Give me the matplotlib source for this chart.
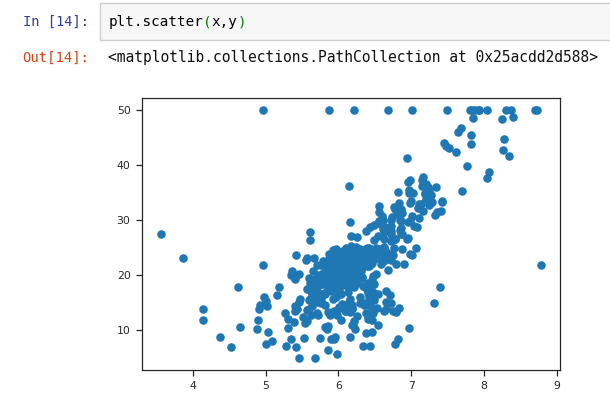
import numpy as np
import matplotlib
matplotlib.use('Agg')
import matplotlib.pyplot as plt

# RM (average rooms) vs MEDV (median value) -- Boston housing
x = [6.575, 6.421, 7.185, 6.998, 7.147, 6.430, 6.012, 6.172, 5.631, 6.004,
     6.377, 6.009, 5.889, 5.949, 6.096, 5.834, 5.935, 5.990, 5.456, 5.727,
     5.570, 5.965, 6.142, 5.813, 5.924, 5.599, 5.813, 6.047, 6.495, 6.674,
     5.713, 6.072, 5.950, 5.701, 6.096, 5.933, 5.841, 5.850, 5.966, 6.595,
     7.024, 6.770, 6.169, 6.211, 6.069, 5.682, 5.786, 6.030, 5.399, 5.602,
     5.963, 6.115, 6.511, 5.998, 5.888, 7.249, 6.383, 6.816, 6.145, 5.927,
     5.741, 5.966, 6.456, 6.762, 7.104, 6.290, 5.787, 5.878, 5.594, 5.885,
     6.417, 5.961, 6.065, 6.245, 6.273, 6.286, 6.279, 6.140, 6.232, 5.874,
     6.727, 6.619, 6.302, 6.167, 6.389, 6.630, 6.015, 6.121, 7.007, 7.079,
     6.417, 6.405, 6.442, 6.211, 6.249, 6.625, 6.163, 8.069, 7.820, 7.416,
     6.727, 6.781, 6.405, 6.137, 6.167, 5.851, 5.836, 6.127, 6.474, 6.229,
     6.195, 6.715, 5.913, 6.092, 6.254, 5.928, 6.176, 6.021, 5.872, 5.731,
     5.870, 6.004, 5.961, 5.856, 5.879, 5.986, 5.613, 5.693, 6.431, 5.637,
     6.458, 6.326, 6.372, 5.822, 5.757, 6.335, 5.942, 6.454, 5.857, 6.151,
     6.174, 5.019, 5.403, 5.468, 4.903, 6.130, 5.628, 4.926, 5.186, 5.597,
     6.122, 5.404, 5.012, 5.709, 6.129, 6.152, 5.272, 6.943, 6.066, 6.510,
     6.250, 7.489, 7.802, 8.375, 5.854, 6.101, 7.929, 5.877, 6.319, 6.402,
     5.875, 5.880, 5.572, 6.416, 5.859, 6.546, 6.020, 6.315, 6.860, 6.980,
     7.765, 6.144, 7.155, 6.563, 5.604, 6.153, 7.831, 6.782, 6.556, 7.185,
     6.951, 6.739, 7.178, 6.800, 6.604, 7.875, 7.287, 7.107, 7.274, 6.975,
     7.135, 6.162, 7.610, 7.853, 8.034, 5.891, 6.326, 5.783, 6.064, 5.344,
     5.960, 5.404, 5.807, 6.375, 5.412, 6.182, 5.888, 6.642, 5.951, 6.373,
     6.951, 6.164, 6.879, 6.618, 8.266, 8.725, 8.040, 7.163, 7.686, 6.552,
     5.981, 7.412, 8.337, 8.247, 6.726, 6.086, 6.631, 7.358, 6.481, 6.606,
     6.897, 6.095, 6.358, 6.393, 5.593, 5.605, 6.108, 6.226, 6.433, 6.718,
     6.487, 6.438, 6.957, 8.259, 6.108, 5.876, 7.454, 8.704, 7.333, 6.842,
     7.203, 7.520, 8.398, 7.327, 7.206, 5.560, 7.014, 8.297, 7.470, 5.920,
     5.856, 6.240, 6.538, 7.691, 6.758, 6.854, 7.267, 6.826, 6.482, 6.812,
     7.820, 6.968, 7.645, 7.923, 7.088, 6.453, 6.230, 6.209, 6.315, 6.565,
     6.861, 7.148, 6.630, 6.127, 6.009, 6.678, 6.549, 5.790, 6.345, 7.041,
     6.871, 6.590, 6.495, 6.982, 7.236, 6.616, 7.420, 6.849, 6.635, 5.972,
     4.973, 6.122, 6.023, 6.266, 6.567, 5.705, 5.914, 5.782, 6.382, 6.113,
     6.426, 6.376, 6.041, 5.708, 6.415, 6.431, 6.312, 6.083, 5.868, 6.333,
     6.144, 5.706, 6.031, 6.316, 6.310, 6.037, 5.869, 5.895, 6.059, 5.985,
     5.968, 7.241, 6.540, 6.696, 6.874, 6.014, 5.898, 6.516, 6.635, 6.939,
     6.490, 6.579, 5.884, 6.728, 5.663, 5.936, 6.212, 6.395, 6.127, 6.112,
     6.398, 6.251, 5.362, 5.803, 8.780, 3.561, 4.963, 3.863, 4.970, 6.683,
     7.016, 6.216, 5.875, 4.906, 4.138, 7.313, 6.649, 6.794, 6.380, 6.223,
     6.968, 6.545, 5.536, 5.520, 4.368, 5.277, 4.652, 5.000, 4.880, 5.390,
     5.713, 6.051, 5.036, 6.193, 5.887, 6.471, 6.405, 5.747, 5.453, 5.852,
     5.987, 6.343, 6.404, 5.349, 5.531, 5.683, 4.138, 5.608, 5.617, 6.852,
     5.757, 6.657, 4.628, 5.155, 4.519, 6.434, 6.782, 5.304, 5.957, 6.824,
     6.411, 6.006, 5.648, 6.103, 5.565, 5.896, 5.837, 6.202, 6.193, 6.380,
     6.348, 6.833, 6.425, 6.436, 6.208, 6.629, 6.461, 6.152, 5.935, 5.627,
     5.818, 6.406, 6.219, 6.485, 5.854, 6.459, 6.341, 6.251, 6.185, 6.417,
     6.749, 6.655, 6.297, 7.393, 6.728, 6.525, 5.976, 5.936, 6.301, 6.081,
     6.701, 6.376, 6.317, 6.513, 6.209, 5.759, 5.952, 6.003, 5.926, 5.713,
     6.167, 6.229, 6.437, 6.980, 5.427, 6.162, 6.484, 5.304, 6.185, 6.229,
     6.242, 6.750, 7.061, 5.762, 5.871, 6.312, 6.114, 5.905, 5.454, 5.414,
     5.093, 5.983, 5.983, 5.707, 5.926, 5.670, 5.390, 5.794, 6.019, 5.569,
     6.027, 6.593, 6.120, 6.976, 6.794, 6.030]

y = [24.0, 21.6, 34.7, 33.4, 36.2, 28.7, 22.9, 27.1, 16.5, 18.9,
     15.0, 18.9, 21.7, 20.4, 18.2, 19.9, 23.1, 17.5, 20.2, 18.2,
     13.6, 19.6, 15.2, 14.5, 15.6, 13.9, 16.6, 14.8, 18.4, 21.0,
     12.7, 14.5, 13.2, 13.1, 13.5, 18.9, 20.0, 21.0, 24.7, 30.8,
     34.9, 26.6, 25.3, 24.7, 21.2, 19.3, 20.0, 16.6, 14.4, 19.4,
     19.7, 20.5, 25.0, 23.4, 18.9, 35.4, 24.7, 31.6, 23.3, 19.6,
     18.7, 16.0, 22.2, 25.0, 33.0, 23.5, 19.4, 22.0, 17.4, 20.9,
     24.2, 21.7, 22.8, 23.4, 24.1, 21.4, 20.0, 20.8, 21.2, 20.3,
     28.0, 23.9, 24.8, 22.9, 23.9, 26.6, 22.5, 22.2, 23.6, 28.7,
     22.6, 22.0, 22.9, 25.0, 20.6, 28.4, 21.4, 38.7, 43.8, 33.2,
     27.5, 26.5, 18.6, 19.3, 20.1, 19.5, 19.5, 20.4, 19.8, 19.4,
     21.7, 22.8, 18.8, 18.7, 18.5, 18.3, 21.2, 19.2, 20.4, 19.3,
     22.0, 20.3, 20.5, 17.3, 18.8, 21.4, 15.7, 16.2, 18.0, 14.3,
     19.2, 19.6, 23.0, 18.4, 15.6, 18.1, 17.4, 17.1, 13.3, 17.8,
     14.0, 14.4, 13.4, 15.6, 11.8, 13.8, 15.6, 14.6, 17.8, 15.4,
     21.5, 19.6, 15.3, 19.4, 17.0, 15.6, 13.1, 41.3, 24.3, 23.3,
     27.0, 50.0, 50.0, 50.0, 22.7, 25.0, 50.0, 23.8, 23.8, 22.3,
     17.4, 19.1, 23.1, 23.6, 22.6, 29.4, 23.2, 24.6, 29.9, 37.2,
     39.8, 36.2, 37.9, 32.5, 26.4, 29.6, 50.0, 32.0, 29.8, 34.9,
     37.0, 30.5, 36.4, 31.1, 29.1, 50.0, 33.3, 30.3, 34.6, 34.9,
     32.9, 24.1, 42.3, 48.5, 50.0, 22.6, 24.4, 22.5, 24.4, 20.0,
     21.7, 19.3, 22.4, 28.1, 23.7, 25.0, 23.3, 28.7, 21.5, 23.0,
     26.7, 21.7, 27.5, 30.1, 44.8, 50.0, 37.6, 31.6, 46.7, 31.5,
     24.3, 31.7, 41.7, 48.3, 29.0, 24.0, 25.1, 31.5, 23.7, 23.3,
     22.0, 20.1, 22.2, 23.7, 17.6, 18.5, 24.3, 20.5, 24.5, 26.2,
     24.4, 24.8, 29.6, 42.8, 21.9, 20.9, 44.0, 50.0, 36.0, 30.1,
     33.8, 43.1, 48.8, 31.0, 36.5, 22.8, 30.7, 50.0, 43.5, 20.7,
     21.1, 25.2, 24.4, 35.2, 32.4, 32.0, 33.2, 33.1, 29.1, 35.1,
     45.4, 35.4, 46.0, 50.0, 32.2, 22.0, 20.1, 23.2, 22.3, 24.8,
     28.5, 37.3, 27.9, 23.9, 21.7, 28.6, 27.1, 20.3, 22.5, 29.0,
     24.8, 22.0, 26.4, 33.1, 36.1, 28.4, 33.4, 28.2, 22.8, 20.3,
     16.1, 22.1, 19.4, 21.6, 23.8, 16.2, 17.8, 19.8, 23.1, 21.0,
     23.8, 23.1, 20.4, 18.5, 25.0, 24.6, 23.0, 22.2, 19.3, 22.6,
     19.8, 17.1, 19.4, 22.2, 20.7, 21.1, 19.5, 18.5, 20.6, 19.0,
     18.7, 32.7, 16.5, 23.9, 31.2, 17.5, 17.2, 23.1, 24.5, 26.6,
     22.9, 24.1, 18.6, 30.1, 18.2, 20.6, 17.8, 21.7, 22.7, 22.6,
     25.0, 19.9, 20.8, 16.8, 21.9, 27.5, 21.9, 23.1, 50.0, 50.0,
     50.0, 50.0, 50.0, 13.8, 13.8, 15.0, 13.9, 13.3, 13.1, 10.2,
     10.4, 10.9, 11.3, 12.3, 8.8, 7.2, 10.5, 7.4, 10.2, 11.5,
     15.1, 23.2, 9.7, 13.8, 12.7, 13.1, 12.5, 8.5, 5.0, 6.3,
     5.6, 7.2, 12.1, 8.3, 8.5, 5.0, 11.9, 27.9, 17.2, 27.5,
     15.0, 17.2, 17.9, 16.3, 7.0, 7.2, 7.5, 10.4, 8.8, 8.4,
     16.7, 14.2, 20.8, 13.4, 11.7, 8.3, 10.2, 10.9, 11.0, 9.5,
     14.5, 14.1, 16.1, 14.3, 11.7, 13.4, 9.6, 8.7, 8.4, 12.8,
     10.5, 17.1, 18.4, 15.4, 10.8, 11.8, 14.9, 12.6, 14.1, 13.0,
     13.4, 15.2, 16.1, 17.8, 14.9, 14.1, 12.7, 13.5, 14.9, 20.0,
     16.4, 17.7, 19.5, 20.2, 21.4, 19.9, 19.0, 19.1, 19.1, 20.1,
     19.9, 19.6, 23.2, 29.8, 13.8, 13.3, 16.7, 12.0, 14.6, 21.4,
     23.0, 23.7, 25.0, 21.8, 20.6, 21.2, 19.1, 20.6, 15.2, 7.0,
     8.1, 13.6, 20.1, 21.8, 24.5, 23.1, 19.7, 18.3, 21.2, 17.5,
     16.8, 22.4, 20.6, 23.9, 22.0, 11.9]

in_prompt = 'In [14]:'
out_prompt = 'Out[14]:'
code_parts = [('plt.scatter', '#000000'), ('(', '#008000'), ('x,y', '#000000'), (')', '#008000')]
out_text = '<matplotlib.collections.PathCollection at 0x25acdd2d588>'

W, H = 610, 395
fig = plt.figure(figsize=(W / 100, H / 100), dpi=100)

def px(xp, yp):
    # pixel (from top-left) -> figure fraction
    return xp / W, 1 - yp / H

mono = 'DejaVu Sans Mono'

# input cell box
bx, by = px(100, 39.5)
box = plt.Rectangle((bx, by), (612 - 100) / W, 36 / H, transform=fig.transFigure,
                    facecolor='#f7f7f7', edgecolor='#cfcfcf', linewidth=1.0)
fig.patches.append(box)

fig.text(*px(23, 22), in_prompt, family=mono, fontsize=9.9, color='#303F9F', va='center')
fig.text(*px(22, 57.5), out_prompt, family=mono, fontsize=10.0, color='#D84315', va='center')

# code text, coloured piece by piece
fs_code = 10.3
adv = fs_code * 0.602 * 100 / 72
cx = 108.5
for s, c in code_parts:
    fig.text(*px(cx, 22), s, family=mono, fontsize=fs_code, color=c, va='center')
    cx += adv * len(s)

fig.text(*px(108.5, 57.5), out_text, family=mono, fontsize=10.5, color='#111111', va='center')

# the scatter plot
ax = fig.add_axes([141.7 / W, 25 / H, (560 - 141.7) / W, (370 - 97.7) / H])
ax.scatter(x, y, s=38, color='#1f77b4', linewidths=0)
for sp in ax.spines.values():
    sp.set_linewidth(0.9)
    sp.set_color('#262626')
ax.tick_params(axis='both', which='major', labelsize=7.8, colors='#262626',
               length=4, width=0.9, pad=4)

fig.savefig('out.png', dpi=100)
